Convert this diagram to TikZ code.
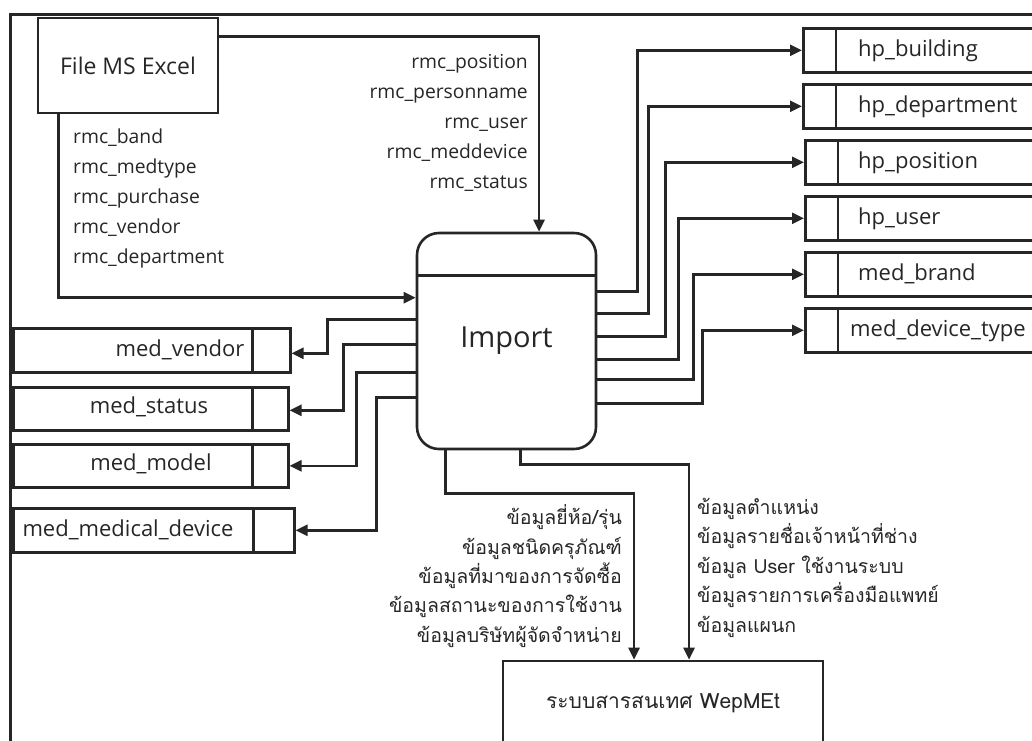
\documentclass[tikz,border=0pt]{standalone}
\usepackage{fontspec}
\setmainfont{Open Sans}
\newfontfamily\thai[Script=Thai]{Loma}
\usetikzlibrary{arrows.meta}
\definecolor{ink}{HTML}{262626}

\begin{document}
\begin{tikzpicture}[x=1pt,y=-1pt,
  line/.style={draw=ink, line width=2.6pt},
  arr/.style={line, -{Triangle[length=12pt,width=11pt]}},
  box/.style={draw=ink, line width=2.6pt, rectangle, inner sep=0pt, text=ink},
  store/.style={box, minimum height=44pt},
  lbl/.style={text=ink, inner sep=0pt, font=\fontsize{19.3}{30}\selectfont},
  tname/.style={text=ink, inner sep=0pt, font=\fontsize{22}{24}\selectfont},
  thailbl/.style={text=ink, inner sep=0pt, font=\thai\fontsize{19.5}{29.5}\selectfont}
]
\useasboundingbox (0,0) rectangle (1032,740);
\clip (0,0) rectangle (1032,740);

% outer frame (open to the right and bottom)
\draw[ink, line width=3pt] (10,745) -- (10,14) -- (1040,14);

% source, process and destination
\node[box, minimum width=180pt, minimum height=95pt, font=\fontsize{23}{26}\selectfont] (xls) at (128,65.5) {File MS Excel};
\node[box, rounded corners=22pt, minimum width=179pt, minimum height=216pt, font=\fontsize{29}{36}\selectfont] (imp) at (506.5,341) {Import};
\draw[line] ([yshift=-44pt]imp.north west) -- ([yshift=-44pt]imp.north east);
\node[box, minimum width=320pt, minimum height=84pt, font=\thai\fontsize{21}{24}\selectfont] (wep) at (663,703) {ระบบสารสนเทศ WepMEt};

% data stores on the right
\node[store, minimum width=260pt, anchor=north west] (hpb) at (802,27) {};
\node[store, minimum width=260pt, anchor=north west] (hpd) at (802,83) {};
\node[store, minimum width=260pt, anchor=north west] (hpp) at (804,139) {};
\node[store, minimum width=260pt, anchor=north west] (hpu) at (804,195) {};
\node[store, minimum width=260pt, anchor=north west] (mbr) at (804,251) {};
\node[store, minimum width=260pt, anchor=north west] (mdt) at (804,307) {};
\foreach \s in {hpb,hpd,hpp,hpu,mbr,mdt}
  \draw[line] ([xshift=34pt]\s.north west) -- ([xshift=34pt]\s.south west);
\node[tname, anchor=west] at ([xshift=56pt]hpb.west) {hp\_building};
\node[tname, anchor=west] at ([xshift=56pt]hpd.west) {hp\_department};
\node[tname, anchor=west] at ([xshift=54pt]hpp.west) {hp\_position};
\node[tname, anchor=west] at ([xshift=54pt]hpu.west) {hp\_user};
\node[tname, anchor=west] at ([xshift=54pt]mbr.west) {med\_brand};
\node[tname, anchor=west] at ([xshift=46pt]mdt.west) {med\_device\_type};

% data stores on the left
\node[store, minimum width=277pt, anchor=north west] (mve) at (12,327) {};
\node[store, minimum width=275pt, minimum height=43pt, anchor=north west] (mst) at (12,386) {};
\node[store, minimum width=275pt, minimum height=43pt, anchor=north west] (mmo) at (12,443) {};
\node[store, minimum width=281pt, anchor=north west] (mmd) at (12,507) {};
\foreach \s/\w in {mve/39,mst/37,mmo/37,mmd/42}
  \draw[line] ([xshift=-\w pt]\s.north east) -- ([xshift=-\w pt]\s.south east);
\node[tname] at (180,350) {med\_vendor};
\node[tname] at (149,407) {med\_status};
\node[tname] at (151,464) {med\_model};
\node[tname] at (128,530) {med\_medical\_device};

% flows from the Excel file into Import
\draw[arr] ([yshift=-20pt]xls.north east) -| ([xshift=32.5pt]imp.north);
\draw[arr] ([xshift=22pt]xls.south west) |- ([yshift=-66pt]imp.north west);
\node[lbl, anchor=east, align=right] at (528,123) {rmc\_position\\rmc\_personname\\rmc\_user\\rmc\_meddevice\\rmc\_status};
\node[lbl, anchor=west, align=left] at (73,198) {rmc\_band\\rmc\_medtype\\rmc\_purchase\\rmc\_vendor\\rmc\_department};

% flows from Import to the stores on the right
\draw[arr] ([yshift=-60pt]imp.north east) -- ++(40,0) |- (hpb.west);
\draw[arr] ([yshift=-82pt]imp.north east) -- ++(51,0) |- (hpd.west);
\draw[arr] ([yshift=-105pt]imp.north east) -- ++(68,0) |- (hpp.west);
\draw[arr] ([yshift=-128pt]imp.north east) -- ++(81,0) |- (hpu.west);
\draw[arr] ([yshift=-148pt]imp.north east) -- ++(96,0) |- (mbr.west);
\draw[arr] ([yshift=-172pt]imp.north east) -- ++(105,0) |- (mdt.west);

% flows from Import to the stores on the left
\draw[arr] ([yshift=-88pt]imp.north west) -- ++(-88,0) |- ([yshift=-3pt]mve.east);
\draw[arr] ([yshift=-113pt]imp.north west) -- ++(-72,0) |- ([yshift=-1.5pt]mst.east);
\draw[arr] ([yshift=-141pt]imp.north west) -- ++(-59,0) |- (mmo.east);
\draw[arr] ([yshift=-166pt]imp.north west) -- ++(-39,0) |- (mmd.east);

% flows from Import down to the information system
\draw[arr] ([xshift=30pt]imp.south west) -- ++(0,43) -| ([xshift=-29pt]wep.north);
\draw[arr] ([xshift=105pt]imp.south west) -- ++(0,14) -| ([xshift=26pt]wep.north);
\node[thailbl, anchor=east, align=right] at (622,576) {ข้อมูลยี่ห้อ/รุ่น\\ข้อมูลชนิดครุภัณฑ์\\ข้อมูลที่มาของการจัดซื้อ\\ข้อมูลสถานะของการใช้งาน\\ข้อมูลบริษัทผู้จัดจำหน่าย};
\node[thailbl, anchor=west, align=left] at (697,567.5) {ข้อมูลตำแหน่ง\\ข้อมูลรายชื่อเจ้าหน้าที่ช่าง\\ข้อมูล User ใช้งานระบบ\\ข้อมูลรายการเครื่องมือแพทย์\\ข้อมูลแผนก};
\end{tikzpicture}
\end{document}
